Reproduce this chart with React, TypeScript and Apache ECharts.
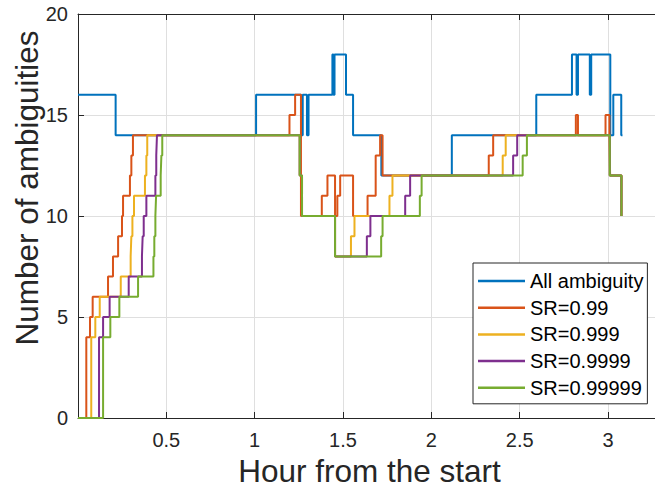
import React, { useEffect, useRef } from "react";
import * as echarts from "echarts";

// Change points: value v[i] holds from t[i] (hours) until t[i+1]
const seriesNames = ["All ambiguity", "SR=0.99", "SR=0.999", "SR=0.9999", "SR=0.99999"];
const seriesColors = ["#0072BD", "#D95319", "#EDB120", "#7E2F8E", "#77AC30"];

const allT = [0, 0.213, 1.008, 1.263, 1.272, 1.296, 1.305, 1.44, 1.446, 1.452, 1.517, 1.557, 1.717, 2.116, 2.594, 2.796, 2.822, 2.83, 2.897, 2.905, 3.013, 3.03, 3.075, 3.082];
const allV = [16, 14, 16, 14, 16, 14, 16, 18, 16, 18, 16, 14, 12, 14, 16, 18, 16, 18, 16, 18, 14, 16, 14, 14];

const sr99T = [0, 0.047, 0.068, 0.083, 0.17, 0.198, 0.227, 0.249, 0.255, 0.294, 0.302, 0.311, 1.197, 1.229, 1.262, 1.38, 1.412, 1.455, 1.468, 1.484, 1.557, 1.639, 1.685, 1.71, 1.724, 2.325, 2.35, 2.818, 2.83, 2.986, 3.008, 3.012, 3.076, 3.078];
const sr99V = [0, 4, 5, 6, 7, 8, 9, 10, 11, 12, 13, 14, 15, 16, 10, 11, 12, 10, 11, 12, 10, 11, 13, 14, 12, 13, 14, 15, 14, 15, 14, 12, 10, 10];

const sr999T = [0, 0.075, 0.098, 0.123, 0.242, 0.298, 0.302, 0.308, 0.317, 0.379, 0.387, 0.392, 1.255, 1.268, 1.455, 1.545, 1.565, 1.763, 1.78, 2.404, 2.421, 3.01, 3.076, 3.078];
const sr999V = [0, 4, 5, 6, 7, 8, 9, 10, 11, 12, 13, 14, 12, 10, 8, 9, 10, 11, 12, 13, 14, 12, 10, 10];

const sr9999T = [0, 0.119, 0.142, 0.179, 0.287, 0.362, 0.366, 0.372, 0.387, 0.438, 0.443, 0.447, 1.255, 1.268, 1.455, 1.635, 1.655, 1.852, 1.88, 2.463, 2.486, 3.01, 3.076, 3.078];
const sr9999V = [0, 4, 5, 6, 7, 8, 9, 10, 11, 12, 13, 14, 12, 10, 8, 9, 10, 11, 12, 13, 14, 12, 10, 10];

const sr99999T = [0, 0.142, 0.183, 0.234, 0.34, 0.427, 0.432, 0.438, 0.442, 0.468, 0.472, 0.477, 1.255, 1.268, 1.455, 1.716, 1.724, 1.935, 1.945, 2.517, 2.541, 3.01, 3.076, 3.078];
const sr99999V = [0, 4, 5, 6, 7, 8, 9, 10, 11, 12, 13, 14, 12, 10, 8, 9, 10, 11, 12, 13, 14, 12, 10, 10];

const xTickLabels = ["0.5", "1", "1.5", "2", "2.5", "3"];
const xTitle = "Hour from the start";
const yTitle = "Number of ambiguities";

const FONT = "'Liberation Sans', Arial, Helvetica, sans-serif";
const AX = "#262626";

export default function App() {
  const ref = useRef<HTMLDivElement>(null);
  useEffect(() => {
    if (!ref.current) return;
    const chart = echarts.init(ref.current, undefined, { renderer: "svg" });
    const ts = [allT, sr99T, sr999T, sr9999T, sr99999T];
    const vs = [allV, sr99V, sr999V, sr9999V, sr99999V];
    const series = seriesNames.map((name, i) => ({
      name,
      type: "line",
      step: "end",
      symbol: "none",
      showSymbol: false,
      data: ts[i].map((t, j) => [t, vs[i][j]]),
      lineStyle: { width: 2, color: seriesColors[i] },
      itemStyle: { color: seriesColors[i] },
      z: 2 + i,
    }));
    const fmt = (v: number) => {
      const s = String(Math.round(v * 10) / 10);
      return xTickLabels.includes(s) ? s : "";
    };
    chart.setOption({
      animation: false,
      textStyle: { fontFamily: FONT },
      grid: { left: 78, top: 14, width: 583, height: 404, containLabel: false },
      xAxis: [
        {
          type: "value",
          min: 0,
          max: 3.3,
          interval: 0.5,
          position: "bottom",
          name: xTitle,
          nameLocation: "middle",
          nameGap: 26,
          nameTextStyle: { fontSize: 31.5, color: AX, fontFamily: FONT },
          axisLine: { show: true, lineStyle: { color: AX, width: 1 } },
          axisTick: { show: true, inside: true, length: 6, lineStyle: { color: AX } },
          axisLabel: { formatter: fmt, fontSize: 20, color: AX, margin: 12, fontFamily: FONT, showMaxLabel: false },
          splitLine: { show: true, lineStyle: { color: "#dfdfdf", width: 1 } },
        },
        {
          type: "value",
          min: 0,
          max: 3.3,
          interval: 0.5,
          position: "top",
          axisLine: { show: true, lineStyle: { color: AX, width: 1 } },
          axisTick: { show: true, inside: true, length: 6, lineStyle: { color: AX } },
          axisLabel: { show: false },
          splitLine: { show: false },
        },
      ],
      yAxis: {
        type: "value",
        min: 0,
        max: 20,
        interval: 5,
        axisLine: { show: true, lineStyle: { color: AX, width: 1 } },
        axisTick: { show: true, inside: true, length: 6, lineStyle: { color: AX } },
        axisLabel: { fontSize: 20, color: AX, margin: 10, fontFamily: FONT },
        splitLine: { show: true, lineStyle: { color: "#dfdfdf", width: 1 } },
      },
      graphic: [
        {
          type: "text",
          x: 27,
          y: 188,
          rotation: Math.PI / 2,
          style: {
            text: yTitle,
            fontSize: 31.5,
            fontFamily: FONT,
            fill: AX,
            textAlign: "center",
            textVerticalAlign: "middle",
          },
        },
      ],
      legend: {
        orient: "vertical",
        left: 473,
        top: 263,
        icon: "rect",
        itemWidth: 47,
        itemHeight: 2.5,
        itemGap: 6.7,
        padding: [8, 4, 6, 5],
        backgroundColor: "#ffffff",
        borderColor: AX,
        borderWidth: 1,
        borderRadius: 0,
        textStyle: { fontSize: 20, color: "#000000", fontFamily: FONT },
        data: seriesNames,
      },
      series,
    });
    return () => chart.dispose();
  }, []);
  return (
    <div
      ref={ref}
      style={{ position: "fixed", left: 0, top: 0, width: 700, height: 493, background: "#ffffff" }}
    />
  );
}
